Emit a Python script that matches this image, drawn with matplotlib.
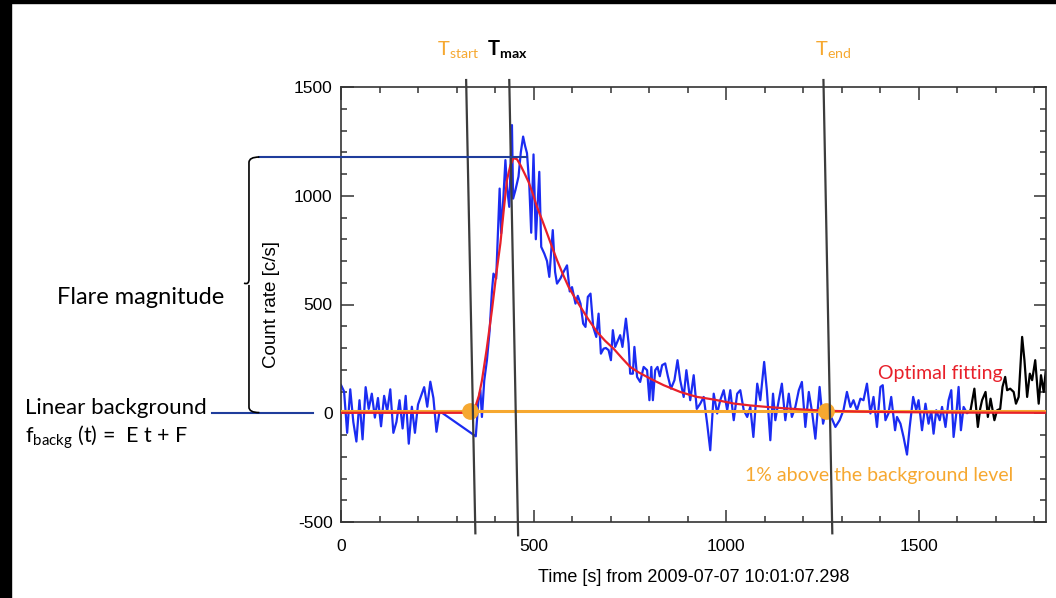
import numpy as np
import matplotlib
matplotlib.use('Agg')
import matplotlib.pyplot as plt
from matplotlib.path import Path
from matplotlib.patches import PathPatch, Rectangle

# pre-flare light curve (8 s steps, ends before the data gap)
pre_t = np.arange(0, 264, 8)
pre_counts = [130, 100, -90, 110, -40, -130, 60, -120, 120, 20, 90, -20, 70, -60, 80, 10,
              110, -90, -40, 60, -70, 80, -140, 30, -90, 40, 80, 120, 30, 145, 70, -85, 10]

# flare and decay (after the gap)
flare_t = [350, 357, 362, 366, 372, 379, 386, 392, 396, 403, 412, 416, 422, 427, 431, 437,
           444, 447, 453, 461, 467, 473, 478, 483, 489, 494, 500, 506, 515, 520, 528, 535,
           541, 550, 556, 561, 570, 578, 587, 594, 600, 609, 615, 622, 629, 635, 641, 648,
           655, 663, 669, 675, 682, 688, 695, 701, 706, 712, 718, 725, 731, 740, 747, 751,
           758, 762, 769, 777, 786, 795, 801, 806, 810, 816, 822, 828, 834, 842, 849, 857,
           866, 874, 881, 890, 897, 907, 916, 924, 933, 942, 951, 959, 968, 977, 985, 994,
           1003, 1011, 1020, 1029, 1037, 1046, 1055, 1063, 1071, 1081, 1089, 1099, 1106, 1115,
           1122, 1128, 1137, 1145, 1154, 1163, 1171, 1180, 1189, 1197, 1206, 1215, 1224, 1232,
           1243, 1252, 1262, 1273, 1284, 1295, 1305, 1314, 1323, 1331, 1340, 1349, 1357, 1366,
           1375, 1383, 1392, 1401, 1407, 1414, 1422, 1429, 1439, 1444, 1453, 1461, 1470, 1477,
           1486, 1494, 1500, 1509, 1518, 1526, 1533, 1539, 1546, 1555, 1561, 1570, 1578, 1585,
           1591, 1599, 1604, 1610, 1617, 1626, 1635]
flare_counts = [-106, 60, 106, -17, 150, 244, 380, 560, 642, 619, 1033, 827, 1000, 1164, 1041, 949,
                1325, 987, 1026, 1088, 1200, 1272, 1230, 1196, 1050, 830, 1190, 800, 1110, 765, 734, 700,
                627, 842, 650, 596, 620, 650, 680, 560, 580, 504, 540, 504, 412, 397, 535, 550,
                397, 351, 458, 274, 297, 300, 290, 244, 382, 305, 330, 359, 305, 435, 320, 182,
                182, 305, 167, 144, 213, 198, 60, 213, 60, 198, 213, 170, 221, 229, 170, 113,
                152, 244, 152, 75, 198, 60, 175, 20, 44, 75, -48, -170, 90, -1, 60, 106,
                14, 106, -32, 90, 106, 14, -17, 29, -109, 136, 60, 236, 106, -124,
                90, -32, 60, 136, -32, 90, -17, 29, 106, 144, -63, 98, -1, -117,
                121, -48, 29, -17, -63, -32, 14, 98, 29, 60, 14, 67, 60, 136,
                -1, 75, -63, 121, 129, -32, 0, 75, -78, -17, -48, -109, -190, -63,
                75, 14, 60, -78, 44, -48, 10, -94, 14, -32, 29, -63, 60, 106,
                -109, 14, 121, -78, 29, 0, 14]

# tail of the record, drawn in black
tail_t = [1635, 1645, 1654, 1660, 1665, 1674, 1680, 1687, 1697, 1704, 1712, 1718, 1725, 1730,
          1738, 1747, 1753, 1760, 1769, 1775, 1782, 1789, 1795, 1803, 1812, 1818, 1825, 1830]
tail_counts = [14, 113, -63, 20, 60, 98, -17, 67, -32, 14, 20, 121, 167, 106,
               113, 98, 44, 75, 351, 244, 75, 182, 152, 244, 44, 175, 98, 190]

# optimal fit
fit_t = [0, 340, 349, 358, 366, 378, 392, 404, 414, 423, 431, 440, 448, 457, 466, 476, 487, 498,
         509, 522, 535, 548, 561, 576, 591, 606, 622, 643, 665, 686, 708, 730, 751, 773, 795, 817,
         838, 860, 881, 903, 925, 947, 968, 994, 1019, 1062, 1106, 1150, 1193, 1232, 1270, 1335,
         1400, 1600, 1832]
fit_counts = [2, 2, 30, 80, 150, 290, 474, 650, 782, 940, 1072, 1140, 1173, 1168, 1141, 1105, 1064, 1010,
              949, 890, 828, 765, 704, 640, 581, 535, 489, 430, 374, 333, 297, 253, 213, 188, 167, 147,
              129, 113, 98, 86, 75, 69, 63, 54, 45, 36, 29, 23, 18, 14, 11, 8,
              6, 3, 2]

threshold = 10          # 1% above background
peak_level = 1178
t_start, t_end = 336, 1259
# the slanted marker lines (top, bottom)
mark_lines = {'start': ([325, 349], [1532, -552]),
              'max': ([437, 460], [1532, -561]),
              'end': ([1253, 1276], [1532, -552])}

BLUE = '#1b2cf2'
NAVY = '#1f3d9c'
RED = '#e8202a'
ORANGE = '#f6a830'
GREY = '#3c3c3c'

plt.rcParams['font.family'] = ['Liberation Sans', 'DejaVu Sans']
plt.rcParams['mathtext.fontset'] = 'custom'
plt.rcParams['mathtext.rm'] = 'Lato'
plt.rcParams['mathtext.it'] = 'Lato:italic'
plt.rcParams['mathtext.bf'] = 'Lato:bold'

W, H = 1056, 598
fig = plt.figure(figsize=(W / 100, H / 100), dpi=100)
ax = fig.add_axes([341 / W, 1 - 522 / H, 705 / W, 435 / H])

blue_t = np.concatenate([pre_t, flare_t])
blue_c = np.concatenate([pre_counts, flare_counts])
ax.plot(blue_t, blue_c, color=BLUE, lw=1.6, zorder=2)
ax.plot(tail_t, tail_counts, color='black', lw=1.6, zorder=2)
ax.axhline(threshold, color=ORANGE, lw=2.2, zorder=3)
ax.plot(fit_t, fit_counts, color=RED, lw=1.6, zorder=4)
ax.plot([t_start, t_end], [threshold, threshold], 'o', ms=11, color=ORANGE, zorder=5)
for k, (xs, ys) in mark_lines.items():
    ax.plot(xs, ys, color=GREY, lw=1.6, zorder=6, clip_on=False)

# peak and background markers reaching out to the left
ax.plot([-212, 484], [peak_level, peak_level], color=NAVY, lw=1.5, zorder=7, clip_on=False)
ax.plot([-334, -72], [3, 3], color=NAVY, lw=1.5, zorder=7, clip_on=False)

# curly brace
xb, xr, xl = -239, -212, -252
y0, y1 = 3, peak_level
ym = 590
r = 25
verts = [(xr, y1), (xb, y1), (xb, y1 - r),
         (xb, ym + r), (xb, ym), (xl, ym + 8),
         (xb, ym), (xb, ym - r),
         (xb, y0 + r), (xb, y0), (xr, y0)]
codes = [Path.MOVETO, Path.CURVE3, Path.CURVE3,
         Path.LINETO, Path.CURVE3, Path.CURVE3,
         Path.MOVETO, Path.LINETO,
         Path.LINETO, Path.CURVE3, Path.CURVE3]
ax.add_patch(PathPatch(Path(verts, codes), fill=False, color='black', lw=1.2,
                       clip_on=False, zorder=7))

ax.set_xlim(0, 1831)
ax.set_ylim(-500, 1500)
ax.set_xticks([0, 500, 1000, 1500])
ax.set_xticks(np.arange(0, 1831, 100), minor=True)
ax.set_yticks([-500, 0, 500, 1000, 1500])
ax.set_yticklabels(['-500', '0', '500', '1000', '1500'])
ax.set_yticks(np.arange(-500, 1501, 100), minor=True)
ax.tick_params(which='both', direction='in', top=True, right=True, color='#333333', width=1.1)
ax.tick_params(which='major', length=9, labelsize=12.5)
ax.tick_params(which='minor', length=4.5)
ax.tick_params(axis='x', pad=12)
ax.tick_params(axis='y', pad=6)
for s in ax.spines.values():
    s.set_color('#333333')
    s.set_linewidth(1.2)

ax.set_xlabel('Time [s] from 2009-07-07 10:01:07.298', fontsize=13, va='center')
ax.xaxis.set_label_coords(0.5, (522 - 578) / 435)
ax.set_ylabel('Count rate [c/s]', fontsize=13.5, va='center')
ax.yaxis.set_label_coords((271 - 341) / 705, 0.5)


def ftxt(px, py, s, **kw):
    fig.text(px / W, 1 - py / H, s, va='center', ha='left', family='Lato', **kw)


ftxt(57, 297, 'Flare magnitude', fontsize=17)
ftxt(25, 408, 'Linear background', fontsize=16)
ftxt(25, 437, r'$\mathregular{f_{backg}}$ (t) =  E t + F', fontsize=15.5)
ftxt(878, 373, 'Optimal fitting', fontsize=14, color=RED)
ftxt(745, 476, '1% above the background level', fontsize=14, color=ORANGE)
ftxt(437, 50, r'$\mathregular{T_{start}}$', fontsize=14.5, color=ORANGE)
ftxt(487, 50, r'$\mathbf{T_{max}}$', fontsize=14.5, color='black')
ftxt(815, 50, r'$\mathregular{T_{end}}$', fontsize=14.5, color=ORANGE)

# black frame edges of the original slide
fig.add_artist(Rectangle((0, 0), 11 / W, 1, transform=fig.transFigure, color='black', zorder=10))
fig.add_artist(Rectangle((0, 1 - 3 / H), 1, 3 / H, transform=fig.transFigure, color='black', zorder=10))

fig.savefig('out.png', dpi=100)
